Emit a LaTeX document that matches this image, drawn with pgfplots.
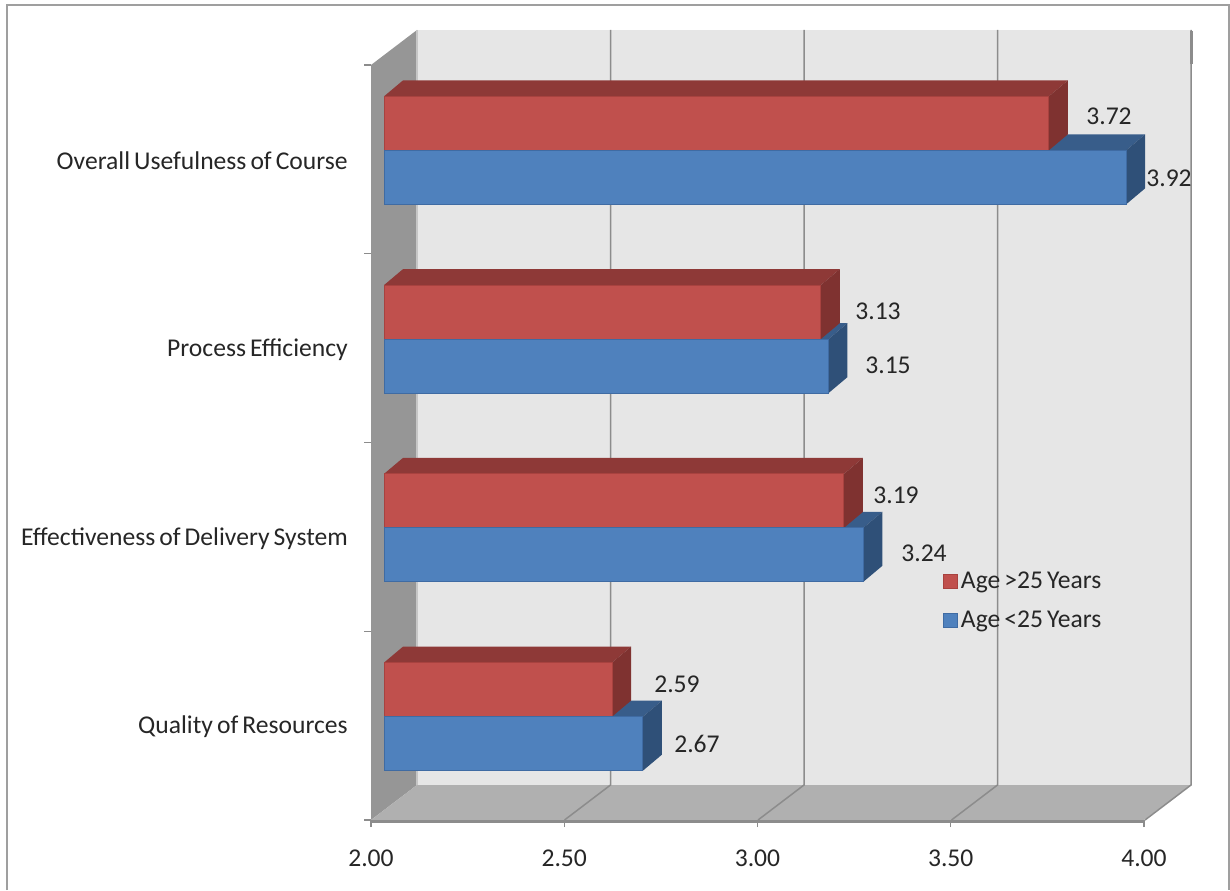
\documentclass[border=0pt]{standalone}
\usepackage{pgfplots}
\pgfplotsset{compat=1.18}
\usepackage{fontspec}
\setmainfont[WordSpace=0.7]{Carlito}
\def\px{0.75pt}
\definecolor{redfront}{HTML}{C0504D}
\definecolor{redtop}{HTML}{8E3937}
\definecolor{redside}{HTML}{7F3230}
\definecolor{rededge}{HTML}{A8423F}
\definecolor{bluefront}{HTML}{4F81BD}
\definecolor{bluetop}{HTML}{385D8A}
\definecolor{blueside}{HTML}{2F5078}
\definecolor{blueedge}{HTML}{3F6BA3}
\definecolor{txt}{HTML}{262626}
\definecolor{wallback}{HTML}{E6E6E6}
\definecolor{wallleft}{HTML}{969696}
\definecolor{wallfloor}{HTML}{B0B0B0}
\definecolor{gridc}{HTML}{8C8C8C}
\tikzset{barshift/.style={xshift=13*\px,yshift=9*\px},
  page/.style={x=\px,y=-\px,yshift=890*\px}}
% top and side faces of one bar: value, centre row, top colour, side colour
\newcommand\barfaces[4]{%
  \pgfmathsetmacro\xd{#1+0.04916}%
  \pgfmathsetmacro\yl{#2-0.14305}%
  \pgfmathsetmacro\yh{#2+0.14305}%
  \pgfmathsetmacro\yld{\yl+0.08477}%
  \pgfmathsetmacro\yhd{\yh+0.08477}%
  \addplot[barshift,fill=#3,draw=none,forget plot] coordinates
    {(2,\yh) (#1,\yh) (\xd,\yhd) (2.04916,\yhd)} --cycle;
  \addplot[barshift,fill=#4,draw=none,forget plot] coordinates
    {(#1,\yl) (#1,\yh) (\xd,\yhd) (\xd,\yld)} --cycle;
}
\begin{document}
\begin{tikzpicture}[font=\fontsize{19.2pt}{23pt}\selectfont,text=txt]
\useasboundingbox (0,0) rectangle (1230*\px,890*\px);
\begin{scope}[page]
  % outer frame
  \draw[color=gray!75,line width=2*\px] (7,890) -- (7,5) -- (1229,5) -- (1229,890);
  % walls of the plot box
  \fill[wallback] (417,30) rectangle (1191,785);
  \fill[wallleft] (371,65) -- (417,30) -- (417,785) -- (371,820) -- cycle;
  \fill[gray!45] (415.5,30) rectangle (418,785);
  \fill[wallfloor] (371,820) -- (417,785) -- (1191,785) -- (1144,820) -- cycle;
  \fill[gridc] (371,820) rectangle (1144,822.5);
  % gridlines on the back wall and their run across the floor
  \foreach \g in {610.5,804,997.5,1191}{
    \draw[gridc,line width=1.5*\px] (\g,30) -- (\g,785) -- (\g-46,820);
  }
  \draw[gridc,line width=3*\px] (1191,31) -- (1191,64);
\end{scope}
\begin{axis}[
  at={(371*\px,70*\px)},anchor=south west,
  scale only axis,width=773*\px,height=755*\px,
  xmin=2,xmax=4,ymin=0,ymax=4,
  clip=false,
  axis line style={draw=none},
  xtick pos=bottom,ytick pos=left,
  tick align=outside,
  tick style={gridc,line width=1.2*\px},
  major tick length=7*\px,
  minor tick length=7*\px,
  xtick={2,2.5,3,3.5,4},
  xticklabel style={/pgf/number format/fixed,/pgf/number format/fixed zerofill,
    /pgf/number format/precision=2,/pgf/number format/assume math mode=true,
    font=\fontsize{19.2pt}{23pt}\selectfont,text=txt,inner sep=0pt,yshift=-23*\px},
  ytick={0.5,1.5,2.5,3.5},
  yticklabels={Quality of Resources,Effectiveness of Delivery System,Process Efficiency,Overall Usefulness of Course},
  yticklabel style={font=\fontsize{19.2pt}{23pt}\selectfont,text=txt,inner sep=0pt,xshift=-16*\px,yshift=-1.5*\px,anchor=east},
  every major y tick/.append style={draw=none},
  minor ytick={0,1,2,3,4},
  legend style={at={(943*\px-371*\px,820*\px-569*\px)},anchor=north west,draw=none,fill=none,
    inner sep=0pt,row sep=15*\px,font=\fontsize{19.2pt}{23pt}\selectfont,text=txt,
    cells={anchor=west}},
  legend cell align=left,
]
% side and top faces, lower series first so the upper one overlaps it
\barfaces{2.67}{0.35695}{bluetop}{blueside}
\barfaces{2.59}{0.64305}{redtop}{redside}
\barfaces{3.24}{1.35695}{bluetop}{blueside}
\barfaces{3.19}{1.64305}{redtop}{redside}
\barfaces{3.15}{2.35695}{bluetop}{blueside}
\barfaces{3.13}{2.64305}{redtop}{redside}
\barfaces{3.92}{3.35695}{bluetop}{blueside}
\barfaces{3.72}{3.64305}{redtop}{redside}
% front faces
\addplot[xbar,barshift,bar width=54*\px,bar shift=27*\px,fill=redfront,draw=rededge,line width=1*\px,forget plot]
  coordinates {(2.59,0.5) (3.19,1.5) (3.13,2.5) (3.72,3.5)};
\addplot[xbar,barshift,bar width=54*\px,bar shift=-27*\px,fill=bluefront,draw=blueedge,line width=1*\px,forget plot]
  coordinates {(2.67,0.5) (3.24,1.5) (3.15,2.5) (3.92,3.5)};
\addlegendimage{legend image code/.code={\draw[fill=redfront,draw=rededge,line width=1*\px] (0,-7*\px) rectangle (14*\px,7*\px);}}
\addlegendentry{Age >25 Years}
\addlegendimage{legend image code/.code={\draw[fill=bluefront,draw=blueedge,line width=1*\px] (0,-7*\px) rectangle (14*\px,7*\px);}}
\addlegendentry{Age <25 Years}
\end{axis}
\begin{scope}[page]
  \node at (1109,116) {3.72};
  \node at (1169,178) {3.92};
  \node at (878,311) {3.13};
  \node at (888,365) {3.15};
  \node at (896,495) {3.19};
  \node at (924,553) {3.24};
  \node at (677,684) {2.59};
  \node at (697,744) {2.67};
\end{scope}
\end{tikzpicture}
\end{document}
